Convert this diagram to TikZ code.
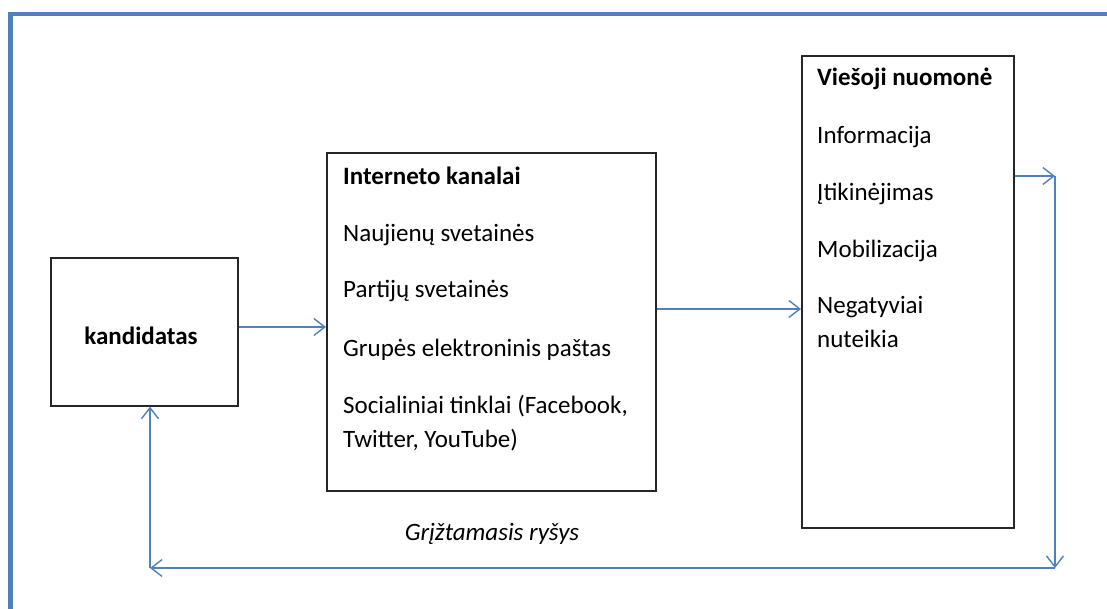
\documentclass[tikz,border=0pt]{standalone}
\usepackage{fontspec}
\setmainfont{Carlito}
\usetikzlibrary{arrows.meta}
\definecolor{fblue}{HTML}{4F81BD}
\begin{document}
\begin{tikzpicture}[x=1pt,y=-1pt,
  box/.style={draw=black!85, line width=1.6pt, inner sep=0pt, anchor=north west},
  conn/.style={draw=fblue, line width=1.4pt, -{Straight Barb[length=11pt,width=17pt,line width=1.4pt]}},
  txt/.style={anchor=base west, inner sep=0pt, font=\fontsize{25}{34}\selectfont, align=left},
]
\useasboundingbox (0,0) rectangle (1107,608);
% frame
\begin{scope}
\clip (0,0) rectangle (1107,608);
\draw[fblue, line width=4.5pt, line join=miter] (10.5,620) -- (10.5,14) -- (1120,14);
\end{scope}
% boxes
\node[box, minimum width=187pt, minimum height=148pt] (kand) at (50,257) {};
\node[box, minimum width=329pt, minimum height=338pt] (net) at (326,152) {};
\node[box, minimum width=212pt, minimum height=472pt] (pub) at (801,55) {};
\node[anchor=base, inner sep=0pt, font=\fontsize{25}{34}\selectfont\bfseries] (kandt) at (141,344) {kandidatas};
% texts in net
\node[txt, font=\fontsize{25}{34}\selectfont\bfseries] (n0) at (343,184) {Interneto kanalai};
\node[txt] (n1) at (343,241) {Naujienų svetainės};
\node[txt] (n2) at (343,297) {Partijų svetainės};
\node[txt] (n3) at (343,356) {Grupės elektroninis paštas};
\node[txt] (n4) at (343,447) {Socialiniai tinklai (Facebook,\\Twitter, YouTube)};
% texts in pub
\node[txt, font=\fontsize{25}{34}\selectfont\bfseries] (p0) at (817,85) {Viešoji nuomonė};
\node[txt] (p1) at (817,143) {Informacija};
\node[txt] (p2) at (817,200) {Įtikinėjimas};
\node[txt] (p3) at (817,257) {Mobilizacija};
\node[txt] (p4) at (817,347) {Negatyviai\\nuteikia};
% feedback label
\node[anchor=base, inner sep=0pt, font=\fontsize{25}{34}\selectfont\itshape] (fb) at (492,540) {Grįžtamasis ryšys};
% connectors
\coordinate (r1) at (1055,176);
\coordinate (r2) at (1055,568);
\coordinate (l2) at (150,568);
\draw[conn] (kand.east |- 0,327) -- (net.west |- 0,327);
\draw[conn] (net.east |- 0,309) -- (pub.west |- 0,309);
\draw[conn] (pub.east |- r1) -- (r1);
\draw[conn] (r1) -- (r2);
\draw[conn] (r2) -- (l2);
\draw[conn] (l2) -- (l2 |- kand.south);
\end{tikzpicture}
\end{document}
